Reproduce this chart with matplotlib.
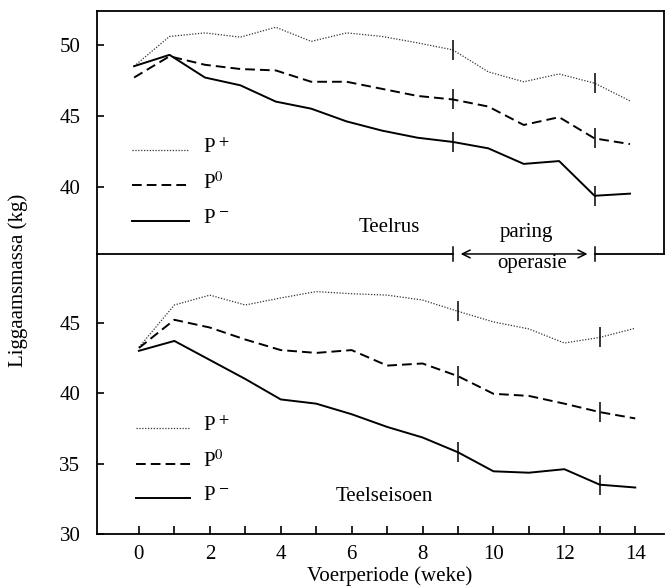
import matplotlib
matplotlib.use("Agg")
import matplotlib.pyplot as plt

plt.rcParams['font.family'] = ['Liberation Serif', 'DejaVu Serif']
plt.rcParams['mathtext.fontset'] = 'stix'

# ---------------- data ----------------
weeks = list(range(15))
operation_weeks = [9, 13]

top_pplus = [48.5, 50.6, 50.85, 50.55, 51.25, 50.25, 50.85, 50.6, 50.15, 49.65, 48.1, 47.4, 47.95, 47.3, 46.05]
top_p0 = [47.7, 49.2, 48.6, 48.3, 48.2, 47.4, 47.4, 46.9, 46.4, 46.15, 45.65, 44.35, 44.9, 43.4, 43.0]
top_pminus = [48.5, 49.3, 47.7, 47.15, 46.0, 45.5, 44.6, 43.95, 43.45, 43.15, 42.7, 41.6, 41.8, 39.35, 39.5]

bot_pplus = [43.25, 46.25, 46.95, 46.25, 46.75, 47.2, 47.05, 46.95, 46.6, 45.8, 45.05, 44.55, 43.55, 43.95, 44.6]
bot_p0 = [43.2, 45.2, 44.65, 43.8, 43.05, 42.85, 43.05, 41.95, 42.1, 41.2, 39.95, 39.8, 39.25, 38.65, 38.2]
bot_pminus = [43.0, 43.7, 42.35, 41.0, 39.55, 39.25, 38.5, 37.6, 36.85, 35.8, 34.45, 34.35, 34.6, 33.5, 33.3]

series_labels = [r'P$^{\,+}$', r'P$^{0}$', r'P$^{\,-}$']
top_yticks = [40, 45, 50]
bot_yticks = [30, 35, 40, 45]
x_ticklabels = [str(w) if w % 2 == 0 else '' for w in weeks]

# ---------------- styles ----------------
styles = [
    dict(color='#333333', lw=0.9, linestyle=(0, (1, 1.3))),
    dict(color='black', lw=1.4, linestyle=(0, (5, 2.6))),
    dict(color='black', lw=1.4, linestyle='-'),
]
FS = 15

fig = plt.figure(figsize=(6.65, 5.86), dpi=100)
ax2 = fig.add_axes([0.146, 0.0887, 0.853, 0.4779])
ax1 = fig.add_axes([0.146, 0.5666, 0.853, 0.4147])
ax1.set_zorder(3)
ax1.patch.set_visible(False)

ax1.set_xlim(-1.045, 14.97)
ax1.set_ylim(35.24, 52.4)
ax2.set_xlim(-1.18, 14.82)
ax2.set_ylim(30, 49.87)

for ax, series in ((ax1, (top_pplus, top_p0, top_pminus)), (ax2, (bot_pplus, bot_p0, bot_pminus))):
    for vals, st in zip(series, styles):
        ax.plot(weeks, vals, **st)
        ax.plot(operation_weeks, [vals[weeks.index(w)] for w in operation_weeks],
                linestyle='none', marker='|', ms=15, mew=1.1, color='black')

# spines
ax1.spines['bottom'].set_visible(False)
for s in ('left', 'top', 'right'):
    ax1.spines[s].set_linewidth(1.3)
ax2.spines['top'].set_visible(False)
ax2.spines['right'].set_visible(False)
for s in ('left', 'bottom'):
    ax2.spines[s].set_linewidth(1.3)

# ticks
ax1.set_xticks([])
ax1.set_yticks(top_yticks)
ax2.set_yticks(bot_yticks)
ax2.set_xticks(weeks)
ax2.set_xticklabels(x_ticklabels)
for ax in (ax1, ax2):
    ax.tick_params(axis='y', direction='in', length=5, width=1.2, pad=12, labelsize=FS)
ax2.tick_params(axis='x', direction='in', length=6, width=1.2, pad=8, labelsize=FS)

# separator line with operation arrow
ylo = ax1.get_ylim()[0]
x0, x1 = ax1.get_xlim()
ax1.plot([x0, operation_weeks[0]], [ylo, ylo], color='black', lw=1.3, clip_on=False)
ax1.plot([operation_weeks[1], x1], [ylo, ylo], color='black', lw=1.3, clip_on=False)
for w in operation_weeks:
    ax1.plot([w, w], [ylo - 0.5, ylo + 0.5], color='black', lw=1.1, clip_on=False)
ax1.annotate('', xy=(operation_weeks[1] - 0.2, ylo), xytext=(operation_weeks[0] + 0.22, ylo),
             arrowprops=dict(arrowstyle='<->', lw=1.1, color='black', shrinkA=0, shrinkB=0,
                             mutation_scale=14),
             annotation_clip=False)
ax1.text(11.08, 36.73, 'paring', fontsize=FS, ha='center', va='center')
ax2.text(11.1, 49.2, 'operasie', fontsize=FS, ha='center', va='center')

# manual legends
top_leg_y = [42.58, 40.1, 37.6]
bot_leg_y = [37.5, 35.0, 32.55]
for ax, ys, (lx0, lx1, tx) in ((ax1, top_leg_y, (-0.06, 1.56, 1.95)), (ax2, bot_leg_y, (-0.07, 1.44, 1.82))):
    for y, st, lab in zip(ys, styles, series_labels):
        ax.plot([lx0, lx1], [y, y], **st)
        ax.text(tx, y + 0.15, lab, fontsize=FS, ha='left', va='center')

ax1.text(7.2, 37.08, 'Teelrus', fontsize=FS, ha='center', va='center')
ax2.text(6.93, 32.66, 'Teelseisoen', fontsize=FS, ha='center', va='center')

fig.text(0.027, 0.522, 'Liggaamsmassa (kg)', rotation=90, fontsize=FS, ha='center', va='center')
fig.text(0.586, 0.016, 'Voerperiode (weke)', fontsize=FS, ha='center', va='center')

fig.savefig('out.png', dpi=100)
